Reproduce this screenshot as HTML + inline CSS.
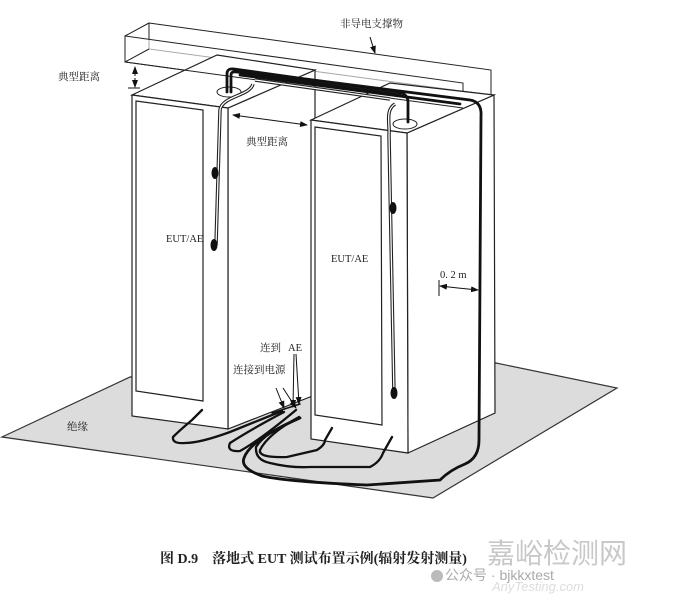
<!DOCTYPE html>
<html><head><meta charset="utf-8"><style>
html,body{margin:0;padding:0;background:#fff;}
svg{display:block;}
text{font-family:"Liberation Serif","Noto Serif CJK SC",serif;fill:#222;}
</style></head><body>
<svg width="680" height="599" viewBox="0 0 680 599" xmlns="http://www.w3.org/2000/svg">
<defs>
<marker id="ah" markerWidth="8" markerHeight="6" refX="7" refY="3" orient="auto" markerUnits="userSpaceOnUse"><path d="M0,0 L8,3 L0,6 Z" fill="#111"/></marker>
</defs>
<!-- floor -->
<polygon points="2,437 130,377 496,363 617,388 433,498" fill="#dcdcdc" stroke="#333" stroke-width="1.2"/>
<!-- support beam -->
<g fill="none" stroke="#222" stroke-width="1">
<polygon points="149,23 491,70 491,95 149,49" fill="#fff"/>
<polygon points="125,36 463,83 463,108 125,62" fill="#fff" fill-opacity="0.6"/>
<line x1="125" y1="62" x2="149" y2="49"/>
<line x1="463" y1="108" x2="491" y2="95"/>
<line x1="125" y1="36" x2="149" y2="23"/>
</g>
<!-- cabinet 1 -->
<g stroke="#222" stroke-width="1.2" fill="#fff">
<polygon points="228,108 315,70 315,395 228,429"/>
<polygon points="132,95 228,108 315,70 217,55"/>
<polygon points="132,95 228,108 228,429 132,416"/>
<polygon points="136,101 203,110 203,401 136,391" fill="none"/>
</g>
<!-- cabinet 2 -->
<g stroke="#222" stroke-width="1.2" fill="#fff">
<polygon points="407,133 494,95 495,413 408,453"/>
<polygon points="311,120 407,133 494,95 390,83"/>
<polygon points="311,120 407,133 408,453 311,439"/>
<polygon points="315,127 381,136 382,425 315,415" fill="none"/>
</g>
<line x1="125" y1="62" x2="463" y2="108" stroke="#222" stroke-width="1"/>
<!-- holes -->
<ellipse cx="229" cy="92" rx="12" ry="5" fill="#fff" stroke="#222"/>
<ellipse cx="405" cy="124" rx="12" ry="5" fill="#fff" stroke="#222"/>
<!-- thin double cables -->
<g fill="none" stroke="#222" stroke-width="3.5">
<path d="M253,84 C250,96 222,96 220,110 L216,245"/>
<path d="M395,104 C385,110 390,124 389,135 L394,395"/>
<path d="M255,80 L390,99"/>
</g>
<g fill="none" stroke="#fff" stroke-width="1.3">
<path d="M253,84 C250,96 222,96 220,110 L216,245"/>
<path d="M395,104 C385,110 390,124 389,135 L394,395"/>
<path d="M255,80 L390,99"/>
</g>
<g fill="#111">
<ellipse cx="215" cy="173" rx="3.5" ry="6"/>
<ellipse cx="214" cy="245" rx="3.5" ry="6"/>
<ellipse cx="393" cy="208" rx="3.5" ry="6"/>
<ellipse cx="394" cy="393" rx="3.5" ry="6"/>
</g>
<!-- thick cables top -->
<g fill="none" stroke="#111" stroke-width="2.8" stroke-linecap="round">
<path d="M227,92 L227,74 Q227,68 234,69 L398,92 Q408,94 408,102 L408,122"/>
<path d="M231,92 L231,75 Q231,71 237,72 L400,95"/>
<path d="M234,70 L470,100 Q482,102 481,116 L479,440 Q479,458 465,464 Q450,470 440,480 L367,485 Q290,482 262,476 Q240,468 244,458 Q250,440 300,418"/>
<path d="M240,75 L460,104"/>
</g>
<!-- floor cables -->
<g fill="none" stroke="#111" stroke-width="2.3" stroke-linecap="round">
<path d="M202,410 Q196,416 192,420 Q180,430 173,437 Q172,444 185,443 Q200,443 230,432 L282,411"/>
<path d="M284,412 Q250,430 230,443 Q226,452 240,451 Q260,440 296,410"/>
<path d="M300,418 Q265,432 256,447 Q255,460 270,463 Q290,468 310,467 L370,467 Q380,462 383,453 L392,437"/>
<path d="M299,417 Q268,434 260,450 Q258,458 287,457 L317,450 Q325,445 325,440 L332,428"/>
<path d="M272,413 L300,404" stroke-width="1.5"/>
</g>
<!-- dimension arrows -->
<g stroke="#111" stroke-width="1" fill="none">
<line x1="135" y1="76" x2="135" y2="67" marker-end="url(#ah)"/>
<line x1="135" y1="78" x2="135" y2="87" marker-end="url(#ah)"/>
<line x1="128" y1="88" x2="140" y2="88"/>
<line x1="270" y1="120" x2="233" y2="115" marker-end="url(#ah)"/>
<line x1="270" y1="120" x2="307" y2="125" marker-end="url(#ah)"/>
<line x1="370" y1="37" x2="375" y2="53" marker-end="url(#ah)"/>
<line x1="458" y1="288" x2="440" y2="286" marker-end="url(#ah)"/>
<line x1="458" y1="288" x2="478" y2="290" marker-end="url(#ah)"/>
<line x1="439" y1="280" x2="439" y2="296"/>
<line x1="283" y1="388" x2="296" y2="408" marker-end="url(#ah)"/>
<line x1="276" y1="388" x2="284" y2="408" marker-end="url(#ah)"/>
<line x1="296" y1="354" x2="299" y2="404" marker-end="url(#ah)"/>
<line x1="294" y1="354" x2="293" y2="407" marker-end="url(#ah)"/>
</g>
<!-- labels -->
<g font-size="10.5">
<text x="340" y="27">非导电支撑物</text>
<text x="58" y="80">典型距离</text>
<text x="246" y="145">典型距离</text>
<text x="166" y="242">EUT/AE</text>
<text x="331" y="262">EUT/AE</text>
<text x="440" y="278">0. 2  m</text>
<text x="260" y="351">连到</text>
<text x="288" y="351">AE</text>
<text x="233" y="373">连接到电源</text>
<text x="67" y="430">绝缘</text>
</g>
<text x="160" y="563" font-size="14" font-weight="bold">图 D.9　落地式 EUT 测试布置示例(辐射发射测量)</text>
<!-- watermark -->
<text x="487" y="563" font-size="28" style="font-family:'Noto Sans CJK SC',sans-serif;fill:#c8c8c8;">嘉峪检测网</text>
<text x="445" y="580" font-size="14" style="font-family:'Liberation Sans','Noto Sans CJK SC',sans-serif;fill:#aaa;">公众号 · bjkkxtest</text>
<text x="492" y="591" font-size="13" font-style="italic" style="font-family:'Liberation Sans',sans-serif;fill:#ddd;">AnyTesting.com</text>
<circle cx="437" cy="576" r="6" fill="#bbb"/>
</svg>
</body></html>
